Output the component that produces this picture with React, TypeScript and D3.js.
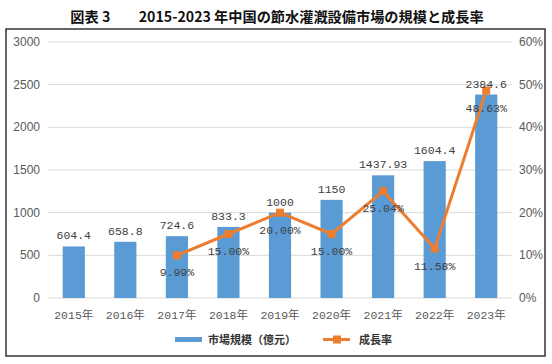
import * as d3 from 'd3'
import React from 'react'

const years = ['2015年', '2016年', '2017年', '2018年', '2019年', '2020年', '2021年', '2022年', '2023年']
const marketSize = [604.4, 658.8, 724.6, 833.3, 1000, 1150, 1437.93, 1604.4, 2384.6]
const sizeLabels = ['604.4', '658.8', '724.6', '833.3', '1000', '1150', '1437.93', '1604.4', '2384.6']
const growthRate = [null, null, 9.99, 15.0, 20.0, 15.0, 25.04, 11.58, 48.63]
const leftTicks = [0, 500, 1000, 1500, 2000, 2500, 3000]
const rightTicks = [0, 10, 20, 30, 40, 50, 60]

const BLUE = '#5B9BD5'
const ORANGE = '#ED7D31'
const monoFont = '"Liberation Mono", "Noto Sans CJK SC", monospace'
const cjkFont = '"Noto Sans CJK JP", "Noto Sans CJK SC", sans-serif'

const App = () => {
  const left = 48
  const right = 512
  const top = 42
  const bottom = 298

  const x = d3.scaleBand().domain(years).range([left, right]).paddingInner(0.57).paddingOuter(0.285)
  const yL = d3.scaleLinear().domain([0, 3000]).range([bottom, top])
  const yR = d3.scaleLinear().domain([0, 60]).range([bottom, top])
  const cx = (i) => x(years[i]) + x.bandwidth() / 2

  const pts = growthRate
    .map((v, i) => ({ v, i }))
    .filter((d) => d.v !== null)

  const line = d3.line()
    .x((d) => cx(d.i))
    .y((d) => yR(d.v))

  return (
    <svg width={552} height={364} style={{ position: 'absolute', left: 0, top: 0, background: '#fff' }}>
      <text x={277} y={22} textAnchor="middle" fontFamily={cjkFont} fontWeight="bold" fontSize={14.2} fill="#111">
        図表 3　　2015-2023 年中国の節水灌漑設備市場の規模と成長率
      </text>
      <rect x={6} y={29} width={539} height={327} fill="none" stroke="#333" strokeWidth={1.5} />

      {leftTicks.map((t) => (
        <g key={'g' + t}>
          <line x1={left} x2={right} y1={yL(t)} y2={yL(t)} stroke="#d9d9d9" strokeWidth={1} />
          <text x={40} y={yL(t) + 4} textAnchor="end" fontFamily='"Liberation Sans", Arial' fontSize={12} fill="#595959">{t}</text>
        </g>
      ))}
      {rightTicks.map((t) => (
        <text key={'r' + t} x={519} y={yR(t) + 4} fontFamily='"Liberation Sans", Arial' fontSize={12} fill="#595959">{t}%</text>
      ))}

      {marketSize.map((v, i) => (
        <rect key={'b' + i} x={x(years[i])} y={yL(v)} width={x.bandwidth()} height={bottom - yL(v)} fill={BLUE} />
      ))}

      {years.map((y, i) => (
        <text key={'c' + i} x={cx(i)} y={319} textAnchor="middle" fontFamily={monoFont} fontSize={11.5} fill="#595959">{y}</text>
      ))}

      <path d={line(pts)} fill="none" stroke={ORANGE} strokeWidth={3} strokeLinejoin="round" />
      {pts.map((d) => (
        <rect key={'m' + d.i} x={cx(d.i) - 4} y={yR(d.v) - 4} width={8} height={8} fill={ORANGE} />
      ))}

      {marketSize.map((v, i) => (
        <text key={'l' + i} x={cx(i)} y={yL(v) - 7} textAnchor="middle" fontFamily={monoFont} fontSize={11.5} fill="#404040">{sizeLabels[i]}</text>
      ))}
      {pts.map((d) => (
        <text key={'p' + d.i} x={cx(d.i)} y={yR(d.v) + 21} textAnchor="middle" fontFamily={monoFont} fontSize={11.5} fill="#404040">{d.v.toFixed(2)}%</text>
      ))}

      <rect x={175} y={337} width={27} height={5} fill={BLUE} />
      <text x={208} y={344} fontFamily={cjkFont} fontSize={11} fontWeight="bold" fill="#333">市場規模（億元）</text>
      <line x1={323} x2={350} y1={339.5} y2={339.5} stroke={ORANGE} strokeWidth={3} />
      <rect x={333} y={335.5} width={8} height={8} fill={ORANGE} />
      <text x={359} y={344} fontFamily={cjkFont} fontSize={11} fontWeight="bold" fill="#333">成長率</text>
    </svg>
  )
}

export default App
